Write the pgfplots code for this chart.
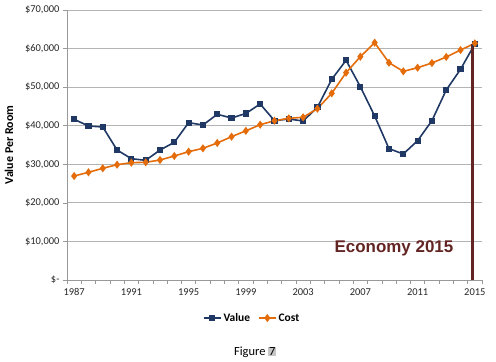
\documentclass[border=0pt]{standalone}
\usepackage{pgfplots}
\pgfplotsset{compat=1.18}
\usepackage{fontspec}
\setmainfont{Carlito}
\newfontfamily\arialbold{Liberation Sans}
\definecolor{valblue}{RGB}{31,56,100}
\definecolor{costorange}{RGB}{228,108,10}
\definecolor{econred}{RGB}{99,37,35}
\definecolor{gridgray}{RGB}{180,180,180}
\begin{document}
\begin{tikzpicture}
\useasboundingbox (-67bp,-82bp) rectangle (429bp,280bp);
\begin{axis}[
  at={(0,0)}, anchor=south west,
  scale only axis, width=415bp, height=270bp,
  xmin=1986.5, xmax=2015.5, ymin=0, ymax=70000,
  scaled y ticks=false, scaled x ticks=false,
  xtick={1987,1991,1995,1999,2003,2007,2011,2015},
  xticklabels={1987,1991,1995,1999,2003,2007,2011,2015},
  minor xtick={1986.5,1987.5,...,2015.5},
  ytick={0,10000,20000,30000,40000,50000,60000,70000},
  yticklabels={{\$-},{\$10,000},{\$20,000},{\$30,000},{\$40,000},{\$50,000},{\$60,000},{\$70,000}},
  /pgf/number format/assume math mode=true,
  axis x line*=bottom, axis y line*=left,
  axis line style={draw=gray!80,-,line width=0.8pt},
  tick align=outside,
  xtick style={draw=none},
  minor x tick style={draw=gray!80, line width=0.6pt},
  minor tick length=4bp,
  ytick style={draw=gray!80, line width=0.6pt},
  major tick length=4bp,
  ymajorgrids, grid style={gridgray, line width=0.8pt},
  tick label style={font=\fontsize{10.5}{12}\selectfont, text=black!85},
  xticklabel style={yshift=-1bp},
  ylabel={Value Per Room},
  every axis y label/.style={at={(axis description cs:-0.14,0.5)}, rotate=90, anchor=center, font=\fontsize{12}{14}\selectfont\bfseries},
  legend columns=2,
  legend style={at={(0.446,-0.141)}, anchor=center, draw=none, fill=none,
    font=\fontsize{11.5}{13}\selectfont\bfseries,
    /tikz/every even column/.append style={column sep=6bp}},
  legend image code/.code={
    \draw[#1, mark repeat=2, mark phase=2] plot coordinates {(0cm,0cm) (0.3cm,0cm) (0.6cm,0cm)};},
  clip=false,
]
\addplot[valblue, line width=1.6pt, mark=square*, mark size=2.3pt, mark options={solid}] coordinates {
(1987,41660) (1988,39930) (1989,39670) (1990,33700) (1991,31450) (1992,31030)
(1993,33700) (1994,35700) (1995,40790) (1996,40190) (1997,42960) (1998,42000)
(1999,43180) (2000,45630) (2001,41300) (2002,41740) (2003,41220) (2004,44770)
(2005,52030) (2006,56960) (2007,50120) (2008,42520) (2009,34050) (2010,32670)
(2011,36120) (2012,41300) (2013,49260) (2014,54620) (2015,61190)};
\addlegendentry{Value}
\addplot[costorange, line width=1.6pt, mark=diamond*, mark size=2.8pt, mark options={solid}] coordinates {
(1987,26960) (1988,27920) (1989,28960) (1990,29900) (1991,30420) (1992,30510)
(1993,31110) (1994,32150) (1995,33270) (1996,34140) (1997,35520) (1998,37160)
(1999,38670) (2000,40270) (2001,41300) (2002,41920) (2003,42180) (2004,44420)
(2005,48400) (2006,53750) (2007,57900) (2008,61530) (2009,56340) (2010,54100)
(2011,55040) (2012,56260) (2013,57820) (2014,59630) (2015,61360)};
\addlegendentry{Cost}
\addplot[econred, line width=3.2pt, forget plot] coordinates {(2014.85,0) (2014.85,61200)};
\node[text=econred, font=\arialbold\fontsize{17}{20}\selectfont\bfseries] at (axis cs:2009.35,8300) {Economy 2015};
\node[font=\fontsize{12.5}{14}\selectfont, inner sep=0pt] at (axis cs:1999.65,-18700) {Figure {\setlength{\fboxsep}{0.8pt}\colorbox{gray!45}{7}}};
\end{axis}
\end{tikzpicture}
\end{document}
